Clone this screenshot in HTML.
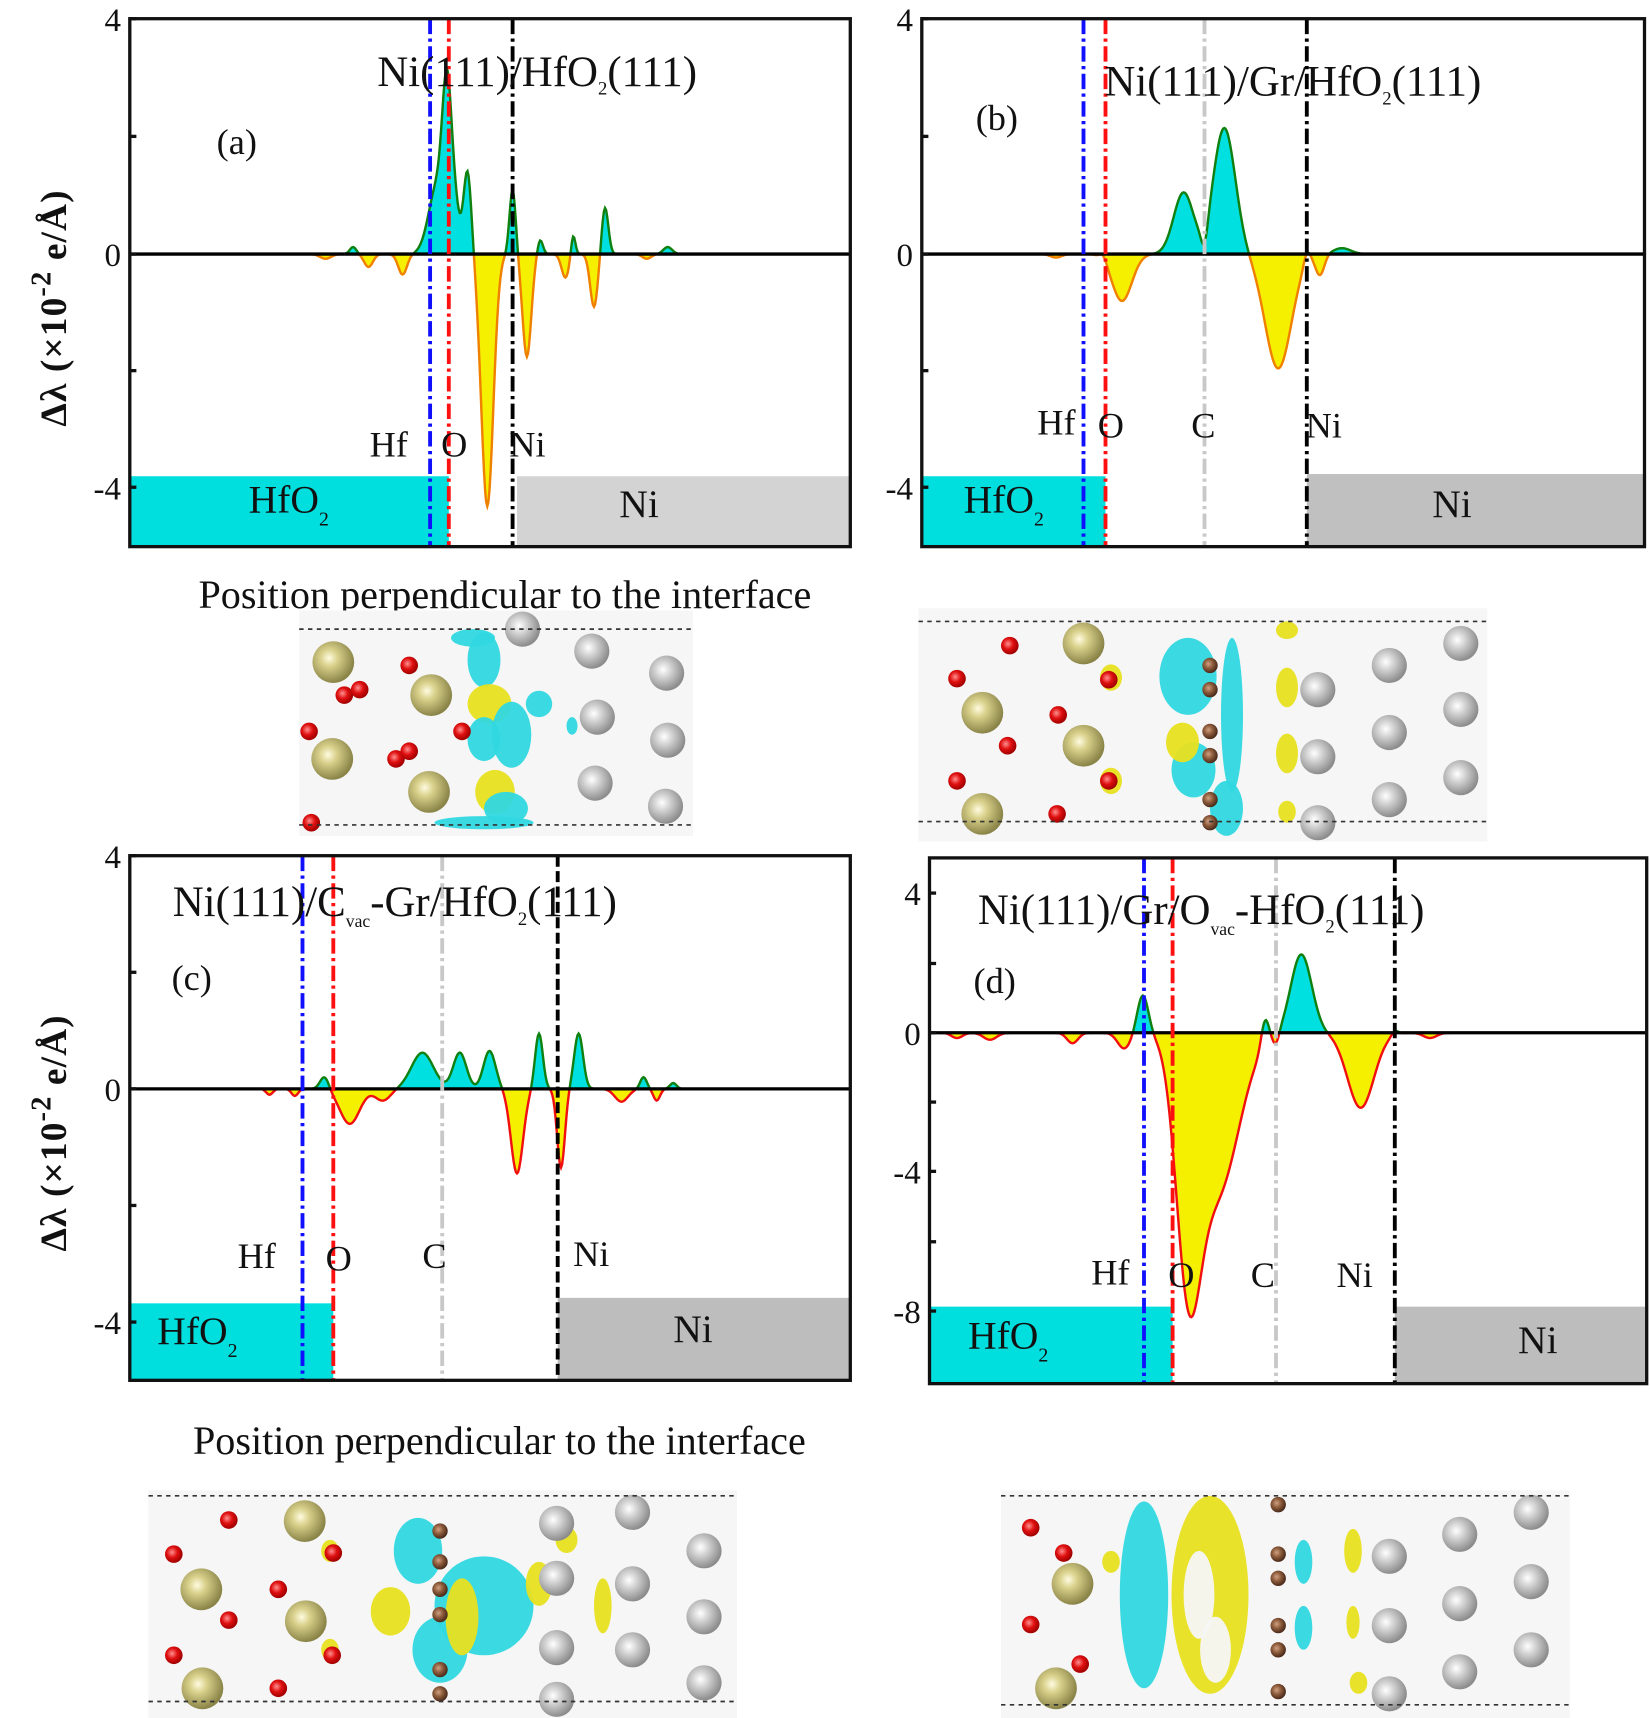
<!DOCTYPE html>
<html><head><meta charset="utf-8"><style>
html,body{margin:0;padding:0;background:#fff;width:1650px;height:1718px;overflow:hidden}
svg{display:block}
text{font-family:"Liberation Serif",serif;fill:#111}
</style></head><body>
<svg id="s" width="1650" height="1718" viewBox="0 0 1500 1562" preserveAspectRatio="none" xmlns="http://www.w3.org/2000/svg">
<defs>
<radialGradient id="gHf" cx="40%" cy="40%" r="60%"><stop offset="0" stop-color="#fffbe0"/><stop offset="0.35" stop-color="#d8d08a"/><stop offset="1" stop-color="#8a8448"/></radialGradient>
<radialGradient id="gNi" cx="40%" cy="40%" r="60%"><stop offset="0" stop-color="#ffffff"/><stop offset="0.4" stop-color="#d0d0d0"/><stop offset="1" stop-color="#8c8c8c"/></radialGradient>
<radialGradient id="gO" cx="40%" cy="40%" r="60%"><stop offset="0" stop-color="#ff9090"/><stop offset="0.5" stop-color="#e01010"/><stop offset="1" stop-color="#a00000"/></radialGradient>
<radialGradient id="gC" cx="40%" cy="40%" r="60%"><stop offset="0" stop-color="#d0a080"/><stop offset="0.5" stop-color="#8a5a3a"/><stop offset="1" stop-color="#4a2a1a"/></radialGradient>
</defs>
<g id="root"></g>
</svg>
<script>
const NS="http://www.w3.org/2000/svg";
const root=document.getElementById('root');
function el(t,a,p){const e=document.createElementNS(NS,t);for(const k in a)e.setAttribute(k,a[k]);(p||root).appendChild(e);return e;}
function txt(x,y,s,size,extra){const e=el('text',Object.assign({x:x,y:y,'font-size':size},extra||{}));e.innerHTML=s;return e;}

function panel(P){
  el('rect',{x:P.x0,y:P.hy,width:P.hx-P.x0,height:P.y1-P.hy,fill:'#00dede'});
  el('rect',{x:P.nx,y:P.ny,width:P.x1-P.nx,height:P.y1-P.ny,fill:P.nicol});
  const pts=[];
  for(let x=P.x0+2;x<=P.x1-2;x+=1){let v=0;for(const g of P.g){v+=g[1]*Math.exp(-((x-g[0])**2)/(2*g[2]*g[2]));}
    pts.push([x,P.yz-v*P.sc]);}
  let pos='M'+pts[0][0]+','+P.yz, neg=pos;
  for(const p of pts){pos+=' L'+p[0]+','+Math.min(p[1],P.yz).toFixed(1);neg+=' L'+p[0]+','+Math.max(p[1],P.yz).toFixed(1);}
  pos+=' L'+pts[pts.length-1][0]+','+P.yz+'Z';neg+=' L'+pts[pts.length-1][0]+','+P.yz+'Z';
  el('path',{d:pos,fill:'#00e0e0'});
  el('path',{d:neg,fill:'#f5f000'});
  const line='M'+pts.map(p=>p[0]+','+p[1].toFixed(1)).join(' L');
  const id='c'+P.id;
  const cp=el('clipPath',{id:id+'u'});el('rect',{x:P.x0,y:P.y0,width:P.x1-P.x0,height:P.yz-P.y0},cp);
  const cn=el('clipPath',{id:id+'d'});el('rect',{x:P.x0,y:P.yz,width:P.x1-P.x0,height:P.y1-P.yz},cn);
  el('path',{d:line,fill:'none',stroke:'#108010','stroke-width':2.2,'clip-path':'url(#'+id+'u)'});
  el('path',{d:line,fill:'none',stroke:P.negcol,'stroke-width':2.2,'clip-path':'url(#'+id+'d)'});
  el('line',{x1:P.x0,y1:P.yz,x2:P.x1,y2:P.yz,stroke:'#000','stroke-width':3});
  for(const v of P.v){el('line',{x1:v[0],y1:P.y0,x2:v[0],y2:P.y1,stroke:v[1],'stroke-width':3.5,'stroke-dasharray':v[2]||'14,4,3,4'});}
  el('rect',{x:P.x0,y:P.y0,width:P.x1-P.x0,height:P.y1-P.y0,fill:'none',stroke:'#111','stroke-width':3});
  for(const t of P.ticks){el('line',{x1:P.x0,y1:t[0],x2:P.x0+6,y2:t[0],stroke:'#111','stroke-width':3});
    if(t[1]!=='')txt(P.x0-8,t[0]+11,t[1],30,{'text-anchor':'end'});}
}

panel({id:'a',x0:118,x1:773,y0:17,y1:497,yz:231,sc:53.3,hy:433,hx:408,nx:470,ny:433,nicol:'#d3d3d3',negcol:'#f08000',
 g:[[398,1.2,8],[406,2.0,4],[412,0.9,5],[425,1.4,3.5],[443,-4.3,5.5],[466,1.1,2.8],[479,-1.75,4],[491,0.25,2.5],[514,-0.4,3.5],[521,0.35,2],[540,-0.9,3.5],[550,0.8,3],[335,-0.22,4],[366,-0.35,4],[321,0.12,3],[607,0.12,4],[296,-0.08,5],[588,-0.08,4]],
 v:[[391,'#1010ff'],[408,'#ff1010'],[466,'#000']],
 ticks:[[17,'4'],[124,''],[231,'0'],[337,''],[443,'-4']]});
panel({id:'b',x0:838,x1:1495,y0:17,y1:497,yz:231,sc:53.3,hy:433,hx:1005,nx:1188,ny:431,nicol:'#c0c0c0',negcol:'#f08000',
 g:[[1020,-0.8,9],[1076,1.05,9],[1095,-0.35,3],[1113,2.15,10],[1162,-1.95,12],[1188,0.2,3],[1200,-0.35,4],[1220,0.1,8],[960,-0.06,5],[1003,0.1,3]],
 v:[[985,'#1010ff'],[1005,'#ff1010'],[1095,'#c8c8c8'],[1188,'#000']],
 ticks:[[17,'4'],[124,''],[231,'0'],[337,''],[443,'-4']]});
panel({id:'c',x0:118,x1:773,y0:778,y1:1255,yz:990,sc:53,hy:1185,hx:303,nx:507,ny:1180,nicol:'#bdbdbd',negcol:'#f01010',
 g:[[295,0.22,4],[318,-0.6,9],[348,-0.2,7],[384,0.62,10],[418,0.62,6],[445,0.65,5.5],[470,-1.45,5.5],[490,0.95,3.5],[510,-1.35,3.5],[526,0.95,4],[565,-0.22,6],[585,0.2,3],[597,-0.2,3],[612,0.1,3],[245,-0.1,3],[268,-0.12,3]],
 v:[[275,'#1010ff'],[303,'#ff1010'],[402,'#c8c8c8'],[507,'#000','10,4']],
 ticks:[[778,'4'],[884,''],[990,'0'],[1096,''],[1202,'-4']]});
panel({id:'d',x0:845,x1:1497,y0:780,y1:1258,yz:939,sc:31.7,hy:1188,hx:1066,nx:1268,ny:1188,nicol:'#bdbdbd',negcol:'#f01010',
 g:[[1039,1.1,5],[1022,-0.45,6],[975,-0.3,5],[1080,-6,11],[1106,-4.6,20],[1150,0.75,3.5],[1160,-0.3,3],[1183,2.25,9.5],[1237,-2.15,12],[1268,0.12,3],[900,-0.2,6],[870,-0.15,5],[1300,-0.15,6]],
 v:[[1040,'#1010ff'],[1066,'#ff1010'],[1160,'#c8c8c8'],[1268,'#000']],
 ticks:[[812,'4'],[876,''],[939,'0'],[1002,''],[1065,'-4'],[1129,''],[1192,'-8']]});

const TS=39;
txt(343,78,'Ni(111)/HfO<tspan dy="8" font-size="17">2</tspan><tspan dy="-8">(111)</tspan>',TS);
txt(197,140,'(a)',33);
txt(336,415,'Hf',33);txt(401,415,'O',33);txt(463,415,'Ni',33);
txt(226,466,'HfO<tspan dy="12" font-size="18">2</tspan>',36);txt(563,470,'Ni',36);
txt(1004,87,'Ni(111)/Gr/HfO<tspan dy="8" font-size="17">2</tspan><tspan dy="-8">(111)</tspan>',TS);
txt(887,118,'(b)',33);
txt(943,395,'Hf',33);txt(998,398,'O',33);txt(1083,398,'C',33);txt(1187,398,'Ni',33);
txt(876,466,'HfO<tspan dy="12" font-size="18">2</tspan>',36);txt(1302,470,'Ni',36);
txt(157,833,'Ni(111)/C<tspan dy="10" font-size="16">vac</tspan><tspan dy="-10">-Gr/HfO</tspan><tspan dy="8" font-size="17">2</tspan><tspan dy="-8">(111)</tspan>',TS);
txt(156,900,'(c)',33);
txt(216,1153,'Hf',33);txt(296,1155,'O',33);txt(384,1153,'C',33);txt(521,1151,'Ni',33);
txt(143,1222,'HfO<tspan dy="12" font-size="18">2</tspan>',36);txt(612,1220,'Ni',36);
txt(889,840,'Ni(111)/Gr/O<tspan dy="10" font-size="16">vac</tspan><tspan dy="-10">-HfO</tspan><tspan dy="8" font-size="17">2</tspan><tspan dy="-8">(111)</tspan>',TS);
txt(885,903,'(d)',33);
txt(992,1168,'Hf',33);txt(1062,1170,'O',33);txt(1137,1170,'C',33);txt(1215,1170,'Ni',33);
txt(880,1226,'HfO<tspan dy="12" font-size="18">2</tspan>',36);txt(1380,1230,'Ni',36);
for(const cy of [280,1030]){txt(0,0,'Δλ (×10<tspan dy="-14" font-size="26">-2</tspan><tspan dy="14"> e/Å)</tspan>',34,{transform:'translate(60,'+cy+') rotate(-90)','text-anchor':'middle','font-weight':'bold','letter-spacing':'1'});}
txt(459,553,'Position perpendicular to the interface',36.5,{'text-anchor':'middle'});
txt(454,1322,'Position perpendicular to the interface',36.5,{'text-anchor':'middle'});

function struct(x,y,w,h,d1,d2,atoms,blobs){
  el('rect',{x:x,y:y,width:w,height:h,fill:'#f6f6f6'});
  for(const b of blobs)el('ellipse',{cx:b[0],cy:b[1],rx:b[2],ry:b[3],fill:b[4],opacity:0.95});
  const R={H:19,N:16,O:8,C:7};const F={H:'url(#gHf)',N:'url(#gNi)',O:'url(#gO)',C:'url(#gC)'};
  for(const a of atoms)el('circle',{cx:a[1],cy:a[2],r:R[a[0]],fill:F[a[0]]});
  el('line',{x1:x,y1:d1,x2:x+w,y2:d1,stroke:'#333','stroke-width':1.5,'stroke-dasharray':'4,4'});
  el('line',{x1:x,y1:d2,x2:x+w,y2:d2,stroke:'#333','stroke-width':1.5,'stroke-dasharray':'4,4'});
}
const Y='#e8e020',C='#30d8e0';
struct(272,555,358,205,572,750,
 [['H',303,602],['H',392,632],['H',302,690],['H',390,720],['O',372,605],['O',313,632],['O',327,627],['O',281,665],['O',360,690],['O',372,683],['O',420,665],['O',283,748],['N',475,572],['N',538,592],['N',606,612],['N',543,652],['N',607,673],['N',541,712],['N',605,733]],
 [[440,600,15,25,C],[445,640,20,18,Y],[465,668,18,30,C],[440,672,15,20,C],[450,720,18,20,Y],[460,735,20,15,C],[440,748,45,6,C],[490,640,12,12,C],[520,660,5,8,C],[430,580,20,8,C]]);
struct(835,553,517,212,565,747,
 [['H',985,585],['H',893,648],['H',985,678],['H',893,740],['O',918,587],['O',870,617],['O',962,650],['O',916,678],['O',870,710],['O',961,740],['O',1008,618],['O',1008,710],['C',1100,605],['C',1100,627],['C',1100,665],['C',1100,687],['C',1100,727],['C',1100,748],['N',1198,627],['N',1198,688],['N',1198,748],['N',1263,605],['N',1263,666],['N',1263,727],['N',1328,585],['N',1328,645],['N',1328,707]],
 [[1080,615,26,35,C],[1120,650,10,70,C],[1085,700,20,25,C],[1115,735,15,25,C],[1075,675,15,18,Y],[1170,625,10,18,Y],[1170,685,10,18,Y],[1010,616,10,12,Y],[1010,710,10,12,Y],[1170,573,10,8,Y],[1170,738,8,10,Y]]);
struct(135,1355,535,210,1360,1547,
 [['H',277,1383],['H',183,1445],['H',278,1474],['H',184,1535],['O',208,1382],['O',158,1413],['O',253,1445],['O',208,1473],['O',158,1505],['O',253,1535],['O',303,1412],['O',302,1505],['C',400,1392],['C',400,1420],['C',400,1445],['C',400,1468],['C',400,1518],['C',400,1540],['N',506,1385],['N',575,1375],['N',506,1435],['N',575,1440],['N',506,1498],['N',575,1500],['N',640,1410],['N',640,1470],['N',640,1530],['N',506,1545]],
 [[380,1410,22,30,C],[440,1460,45,45,C],[400,1500,25,30,C],[355,1465,18,22,Y],[420,1470,15,35,Y],[490,1440,12,20,Y],[548,1460,8,25,Y],[300,1410,8,10,Y],[300,1500,8,10,Y],[515,1400,10,12,Y]]);
struct(910,1355,517,210,1360,1550,
 [['H',975,1440],['H',960,1535],['O',937,1389],['O',967,1412],['O',937,1477],['O',982,1513],['C',1162,1368],['C',1162,1413],['C',1162,1435],['C',1162,1478],['C',1162,1500],['C',1162,1538],['N',1263,1415],['N',1263,1478],['N',1263,1540],['N',1327,1395],['N',1327,1458],['N',1327,1520],['N',1392,1375],['N',1392,1438],['N',1392,1500]],
 [[1040,1450,22,85,C],[1100,1450,35,90,Y],[1090,1450,14,40,'#f6f6f6'],[1105,1500,14,30,'#f6f6f6'],[1185,1420,8,20,C],[1185,1480,8,20,C],[1230,1410,8,20,Y],[1230,1475,6,15,Y],[1010,1420,8,10,Y],[1235,1530,8,10,Y]]);
</script>
</body></html>
